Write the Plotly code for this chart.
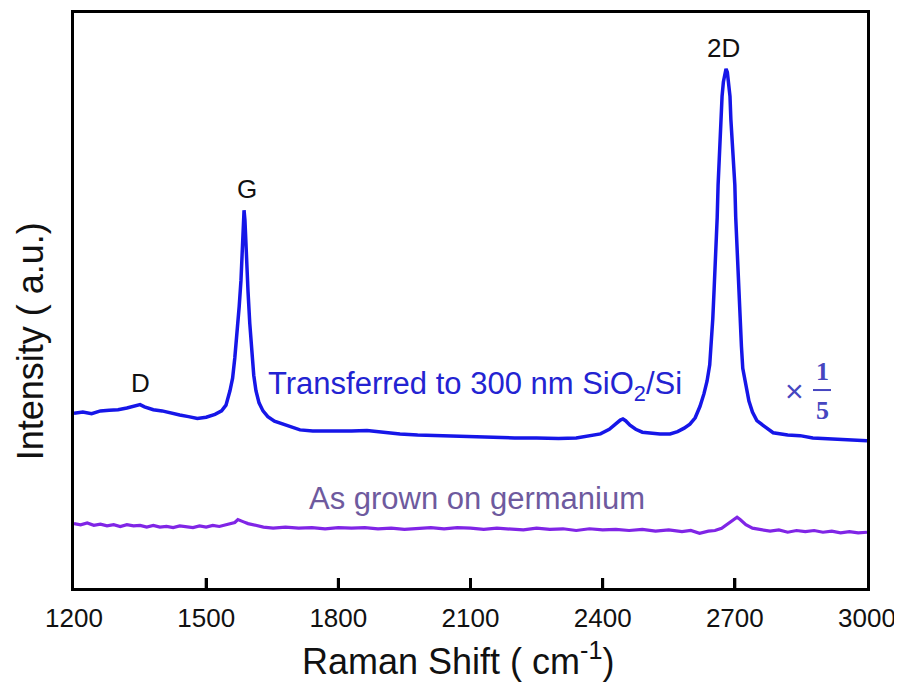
import plotly.graph_objects as go

# ---- data ----
transferred_x = [1200, 1220, 1240, 1260, 1280, 1300, 1320, 1340, 1350, 1360, 1380, 1400, 1420, 1440,
                 1460, 1480, 1500, 1520, 1535, 1545, 1554, 1560, 1565, 1570, 1575, 1579, 1582, 1584,
                 1586, 1588, 1590, 1593, 1595, 1599, 1604, 1608, 1613, 1620, 1629, 1640, 1655, 1680,
                 1713, 1742, 1770, 1800, 1830, 1865, 1900, 1940, 1980, 2020, 2060, 2100, 2150, 2200,
                 2250, 2300, 2340, 2370, 2395, 2415, 2430, 2440, 2446, 2452, 2462, 2475, 2490, 2510,
                 2530, 2553, 2570, 2585, 2598, 2610, 2621, 2630, 2637, 2643, 2646, 2650, 2653, 2657,
                 2660, 2662, 2665, 2668, 2671, 2674, 2677, 2680, 2683, 2686, 2689, 2691, 2695, 2700,
                 2702, 2705, 2708, 2712, 2715, 2718, 2725, 2732, 2740, 2750, 2764, 2787, 2820, 2848,
                 2877, 2920, 2960, 3000]
transferred_y = [30.4, 30.6, 30.3, 30.8, 30.9, 31.0, 31.3, 31.7, 31.9, 31.5, 31.0, 30.8, 30.4, 30.1,
                 29.8, 29.5, 29.7, 30.2, 30.8, 31.8, 34.3, 36.5, 40.0, 44.0, 49.0, 53.5, 59.0, 63.5,
                 65.7, 64.0, 60.0, 55.0, 51.6, 46.0, 40.0, 37.0, 34.3, 32.2, 30.8, 29.8, 29.0, 28.3,
                 27.5, 27.3, 27.3, 27.2, 27.3, 27.4, 27.1, 26.8, 26.6, 26.5, 26.4, 26.3, 26.2, 26.1,
                 26.1, 26.0, 26.1, 26.4, 26.8, 27.6, 28.6, 29.2, 29.4, 29.1, 28.3, 27.6, 27.1, 26.9,
                 26.8, 26.8, 27.2, 27.8, 28.5, 29.6, 31.6, 33.8, 36.0, 38.8, 42.0, 46.9, 52.0, 58.5,
                 64.5, 70.1, 76.0, 81.5, 85.5, 88.0, 89.7, 90.3, 89.7, 88.0, 85.5, 81.5, 76.0, 70.1,
                 64.5, 58.5, 52.0, 46.9, 42.0, 38.2, 35.0, 32.5, 30.6, 29.1, 28.3, 27.0, 26.6, 26.5,
                 26.1, 25.9, 25.7, 25.6]

grown_x = [1200, 1215, 1230, 1245, 1260, 1275, 1290, 1305, 1320, 1335, 1350, 1365, 1380, 1395, 1410,
           1425, 1440, 1455, 1470, 1485, 1500, 1515, 1530, 1545, 1555, 1565, 1572, 1577, 1585, 1595,
           1610, 1630, 1652, 1680, 1710, 1740, 1770, 1800, 1830, 1860, 1890, 1920, 1950, 1980, 2010,
           2040, 2070, 2100, 2130, 2160, 2190, 2220, 2250, 2280, 2310, 2340, 2370, 2400, 2430, 2460,
           2490, 2520, 2550, 2580, 2600, 2620, 2640, 2655, 2670, 2685, 2697, 2705, 2712, 2725, 2740,
           2760, 2780, 2800, 2820, 2840, 2860, 2880, 2900, 2920, 2940, 2960, 2980, 3000]
grown_y = [11.2, 11.0, 11.3, 10.9, 11.1, 10.8, 11.0, 10.7, 11.0, 10.8, 10.9, 10.6, 10.9, 10.6, 10.7,
           10.5, 10.8, 10.6, 10.5, 10.8, 10.6, 10.9, 10.7, 11.0, 11.2, 11.4, 11.9, 11.8, 11.5, 11.2,
           10.9, 10.6, 10.4, 10.6, 10.4, 10.5, 10.3, 10.5, 10.4, 10.5, 10.3, 10.4, 10.2, 10.4, 10.5,
           10.3, 10.5, 10.4, 10.2, 10.4, 10.3, 10.1, 10.4, 10.2, 10.3, 10.0, 10.3, 10.1, 10.2, 10.0,
           10.2, 9.9, 10.1, 9.8, 10.0, 9.5, 9.9, 10.0, 10.4, 11.2, 12.0, 12.3, 11.9, 11.0, 10.4,
           10.2, 9.9, 10.1, 9.7, 10.0, 9.8, 10.0, 9.7, 9.9, 9.6, 9.8, 9.6, 9.7]

x_ticks = [1200, 1500, 1800, 2100, 2400, 2700, 3000]
peak_labels = ["D", "G", "2D"]

# ---- geometry (screen pixels; page body has an 8px margin) ----
OFF = 8
W, H = 902 - OFF, 686 - OFF
L, R, T, B = 74, 867, 10, 588
def xp(px):
    return (px - L) / (R - L)
def yp(py):
    return (B - py) / (B - T)

fig = go.Figure()
fig.add_trace(go.Scatter(x=grown_x, y=grown_y, mode="lines",
                         line=dict(color="#8025e6", width=3.2), showlegend=False))
fig.add_trace(go.Scatter(x=transferred_x, y=transferred_y, mode="lines",
                         line=dict(color="#1616e8", width=3.5), showlegend=False))

font_main = "Arial, Liberation Sans, sans-serif"
serif = "Liberation Serif, Times New Roman, serif"
ann = []
for lab, (px_, py_) in zip(peak_labels, [(140, 382), (247, 187), (723, 45)]):
    ann.append(dict(x=xp(px_), y=yp(py_), xref="paper", yref="paper", text=lab, showarrow=False,
                    font=dict(family=font_main, size=26, color="#111111"),
                    xanchor="center", yanchor="middle"))
ann.append(dict(x=xp(475), y=yp(385), xref="paper", yref="paper",
                text="Transferred to 300 nm SiO<sub>2</sub>/Si", showarrow=False,
                font=dict(family=font_main, size=31, color="#2323d2"),
                xanchor="center", yanchor="middle"))
ann.append(dict(x=xp(477), y=yp(498), xref="paper", yref="paper",
                text="As grown on germanium", showarrow=False,
                font=dict(family=font_main, size=31, color="#6e5a9e"),
                xanchor="center", yanchor="middle"))
ann.append(dict(x=xp(794), y=yp(390), xref="paper", yref="paper", text="×", showarrow=False,
                font=dict(family=font_main, size=32, color="#4646c0"),
                xanchor="center", yanchor="middle"))
ann.append(dict(x=xp(822), y=yp(370), xref="paper", yref="paper", text="<b>1</b>", showarrow=False,
                font=dict(family=serif, size=26, color="#4646c0"),
                xanchor="center", yanchor="middle"))
ann.append(dict(x=xp(822), y=yp(410), xref="paper", yref="paper", text="<b>5</b>", showarrow=False,
                font=dict(family=serif, size=26, color="#4646c0"),
                xanchor="center", yanchor="middle"))
ann.append(dict(x=xp(458), y=yp(659), xref="paper", yref="paper",
                text="Raman Shift ( cm<sup>-1</sup>)", showarrow=False,
                font=dict(family=font_main, size=36, color="#111111"),
                xanchor="center", yanchor="middle"))
ann.append(dict(x=xp(30), y=yp(340), xref="paper", yref="paper",
                text="Intensity ( a.u.)", showarrow=False, textangle=-90,
                font=dict(family=font_main, size=36, color="#111111"),
                xanchor="center", yanchor="middle"))

shapes = [dict(type="line", xref="paper", yref="paper", x0=xp(813), x1=xp(831),
               y0=yp(389), y1=yp(389), line=dict(color="#4646c0", width=2))]
# inside tick marks on the bottom axis
for v in x_ticks[1:-1]:
    shapes.append(dict(type="line", xref="x", yref="paper", x0=v, x1=v,
                       y0=0, y1=10 / (B - T), line=dict(color="black", width=3)))

fig.update_layout(
    width=W, height=H,
    margin=dict(l=L - OFF, r=902 - R, t=T - OFF, b=686 - B),
    paper_bgcolor="white", plot_bgcolor="white",
    annotations=ann, shapes=shapes,
    xaxis=dict(range=[1200, 3000], tickvals=x_ticks, ticktext=[str(v) for v in x_ticks],
               ticks="inside", ticklen=10, tickwidth=3, tickcolor="black",
               showline=True, linecolor="black", linewidth=3, mirror=True,
               showgrid=False, zeroline=False,
               tickfont=dict(family=font_main, size=26, color="#111111"),
               ticklabelstandoff=5),
    yaxis=dict(range=[0, 100], showticklabels=False, ticks="",
               showline=True, linecolor="black", linewidth=3, mirror=True,
               showgrid=False, zeroline=False),
)

fig.write_html("out.html")
